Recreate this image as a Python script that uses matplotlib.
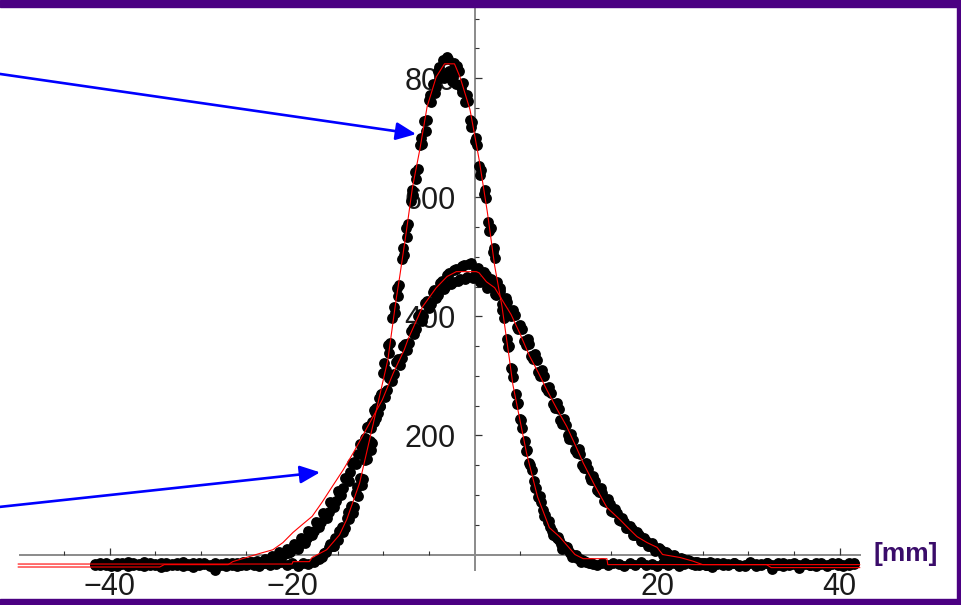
import numpy as np
import matplotlib
matplotlib.use("Agg")
import matplotlib.pyplot as plt
from matplotlib.patches import Rectangle

plt.rcParams['font.family'] = ['Liberation Sans', 'DejaVu Sans']

# ---------------- data ----------------
# narrow profile: core samples every 0.25 mm starting at -17 mm
NARROW_CORE_START, NARROW_CORE_STEP = -17.0, 0.25
NARROW_CORE_Y = [
    -8, -5, 2, 4, 12, 16, 15, 27, 24, 38, 47, 45, 62, 60, 82, 80, 104, 99, 128, 126,
    158, 160, 190, 188, 222, 230, 262, 268, 305, 310, 352, 356, 398, 405, 447, 452,
    497, 503, 548, 555, 594, 603, 642, 648, 688, 690, 728, 730, 763, 760, 790, 785,
    812, 800, 830, 806, 836, 812, 795, 826, 790, 812, 785, 792, 760, 762, 730, 726,
    695, 688, 652, 645, 606, 598, 558, 548, 508, 498, 458, 448, 410, 398, 362, 350,
    314, 298, 270, 255, 228, 212, 190, 175, 154, 142, 124, 112, 96, 88, 74, 66,
    55, 47, 40, 33, 28, 24, 18, 15, 12, 8, 3, 0, -3, -6, -8, -10, -11, -13, -14, -15, -16]
# second scan of the narrow profile, every 0.5 mm
NARROW_SCAN2_START, NARROW_SCAN2_STEP = -15.875, 0.5
NARROW_SCAN2_Y = [18, 14, 40, 38, 72, 70, 114, 116, 170, 176, 240, 250, 322, 338, 416, 434,
                  514, 534, 612, 630, 700, 712, 772, 775, 818, 800, 832, 802, 820, 776,
                  772, 718, 700, 638, 612, 544, 514, 444, 414, 348, 312, 252, 226, 174,
                  150, 112, 98, 64, 56, 32, 30, 10, 12, -4, 0, -12]
NARROW_LEFT_START, NARROW_SIDE_STEP = -41.6, 0.6
NARROW_LEFT_Y = [-16, -18, -14, -17, -19, -15, -13, -18, -16, -20, -15, -17, -14, -19,
                 -16, -18, -13, -17, -21, -15, -16, -19, -14, -17, -15, -18, -20, -16,
                 -14, -17, -19, -15, -18, -16, -13, -17, -15, -19, -14, -16, -12]
NARROW_RIGHT_START = 13.4
NARROW_RIGHT_Y = [-17, -15, -18, -14, -16, -19, -15, -17, -13, -18, -16, -20, -14, -17,
                  -15, -19, -16, -14, -18, -15, -17, -21, -16, -14, -18, -15, -17, -19,
                  -13, -16, -18, -15, -17, -14, -19, -16, -15, -18, -16, -17, -14, -16,
                  -19, -15, -17, -18, -14, -16]

# wide profile: core samples every 0.4 mm starting at -26 mm
WIDE_CORE_START, WIDE_CORE_STEP = -26.0, 0.4
WIDE_CORE_Y = [
    -15, -17, -14, -16, -13, -15, -12, -14, -10, -11, -6, -4, -2, 3, 2, 9, 12, 16, 24, 27,
    36, 40, 50, 55, 66, 72, 84, 90, 104, 112, 128, 138, 155, 168, 184, 196, 216, 222,
    246, 250, 272, 276, 300, 303, 328, 330, 354, 356, 380, 378, 404, 400, 426, 420,
    444, 436, 460, 450, 472, 458, 480, 462, 486, 466, 490, 470, 481, 460, 470, 450,
    458, 436, 442, 420, 424, 400, 402, 378, 378, 352, 354, 328, 327, 300, 300, 274,
    272, 246, 244, 220, 218, 194, 192, 170, 168, 146, 144, 125, 123, 105, 103, 88,
    85, 71, 69, 56, 55, 44, 42, 32, 32, 22, 22, 14, 14, 7, 7, 0, 1, -5, -4, -9, -8,
    -12, -11, -15, -13, -16, -14, -17, -15]
# second scan of the wide profile, every 0.4 mm
WIDE_SCAN2_START, WIDE_SCAN2_STEP = -25.8, 0.4
WIDE_SCAN2_Y = [
    -18, -13, -17, -12, -16, -11, -14, -8, -12, -3, -8, 4, -1, 10, 4, 18, 10, 28, 20, 40,
    32, 54, 46, 70, 62, 88, 80, 106, 100, 128, 124, 154, 152, 186, 184, 214, 212, 242,
    238, 270, 264, 297, 292, 324, 318, 350, 344, 376, 370, 400, 392, 422, 414, 440,
    430, 456, 446, 470, 454, 478, 460, 484, 462, 488, 464, 480, 458, 474, 448, 462,
    438, 448, 420, 430, 402, 410, 382, 386, 358, 362, 334, 336, 306, 310, 280, 282,
    252, 255, 226, 228, 200, 202, 175, 178, 151, 154, 130, 132, 108, 112, 90, 93,
    73, 76, 58, 62, 44, 48, 33, 37, 23, 28, 14, 19, 6, 11, 0, 5, -5, -1, -10, -6,
    -13, -9, -16, -12, -18, -14, -17, -13]
WIDE_LEFT_START, WIDE_SIDE_STEP = -41.6, 0.6
WIDE_LEFT_Y = [-18, -15, -17, -20, -14, -16, -19, -15, -17, -13, -18, -16, -21, -15,
               -17, -14, -19, -16, -15, -18, -14, -17, -26, -16, -19, -15]
WIDE_RIGHT_START = 26.6
WIDE_RIGHT_Y = [-15, -18, -16, -14, -19, -17, -15, -20, -16, -14, -24, -17, -15, -18,
                -16, -23, -14, -17, -19, -15, -18, -16, -14, -19, -17, -15]

# red fitted curves
NARROW_FIT_X = [-50, -20, -19.9, -18.1, -17.8, -16.2, -14.8, -14.0, -12.6, -11.5, -9.5,
                -8.6, -8.2, -7.5, -6.8, -6.0, -5.2, -4.2, -3.3, -2.2, -1.6, -0.5, 0.5,
                1.4, 2.2, 3.0, 3.8, 4.2, 5.7, 6.9, 8.2, 9.3, 11.0, 11.9, 14.5, 14.6, 42.2]
NARROW_FIT_Y = [-16, -16, -12, -12, -5, 8, 33, 59, 120, 193, 327,
                428, 467, 540, 617, 680, 752, 802, 824, 824, 802, 747, 663,
                575, 485, 417, 330, 285, 170, 97, 45, 30, 0, -7, -7, -17, -17]
WIDE_FIT_X = [-50, -34.5, -34.0, -27.0, -26.5, -25.0, -23.5, -22.1, -21.0, -19.9, -18.9,
              -17.8, -16.7, -15.6, -14.4, -13.2, -11.6, -10.1, -8.9, -7.7, -7.3, -5.7,
              -4.2, -3.0, -2.0, 0.2, 0.5, 1.3, 2.2, 3.0, 4.0, 5.0, 6.0, 7.0, 7.9, 9.0,
              10.1, 11.0, 11.9, 13.2, 14.5, 15.9, 16.8, 17.8, 18.9, 20.0, 20.6, 22.5,
              23.9, 25.0, 32.0, 32.5, 42.2]
WIDE_FIT_Y = [-21, -21, -17, -17, -12, -5, 2, 8, 20, 37, 50,
              64, 88, 114, 142, 173, 218, 260, 305, 344, 361, 416,
              448, 467, 475, 475, 473, 458, 448, 428, 403, 370, 334, 305, 277, 245,
              215, 185, 154, 115, 79, 59, 45, 30, 20, 12, 0, -5,
              -11, -17, -17, -22, -22]

X_MAJOR = [-40, -20, 20, 40]
X_MINOR = [-45, -35, -30, -25, -15, -10, -5, 5, 10, 15, 25, 30, 35]
Y_MAJOR = [200, 400, 600, 800]
Y_MINOR = [50, 100, 150, 250, 300, 350, 450, 500, 550, 650, 700, 750, 850, 900]
UNIT_LABEL = "[mm]"

# annotation arrows (tail -> tip, data coords)
ARROW1 = ((-52.0, 807), (-6.41, 706))
ARROW2 = ((-52.0, 80), (-16.93, 138))


def sampled(start, step, ys):
    xs = start + step * np.arange(len(ys))
    return xs, np.asarray(ys, dtype=float)


# ---------------- figure ----------------
W, H = 961, 605
fig = plt.figure(figsize=(W / 100, H / 100), dpi=100)
fig.patch.set_facecolor('white')
ax = fig.add_axes([0, 0, 1, 1])
ax.set_xlim(-52.0, 53.3)
ax.set_ylim(-84.8, 931.2)

for sp in ('top', 'right'):
    ax.spines[sp].set_visible(False)
ax.spines['left'].set_position(('data', 0))
ax.spines['bottom'].set_position(('data', 0))
ax.spines['bottom'].set_bounds(-49.8, 42.25)
ax.spines['left'].set_bounds(-26, 931)
for sp in ('left', 'bottom'):
    ax.spines[sp].set_color('#8a8a8a')
    ax.spines[sp].set_linewidth(1.4)
    ax.spines[sp].set_zorder(1.2)

ax.set_xticks(X_MAJOR)
ax.set_xticklabels(['\u221240', '\u221220', '20', '40'])
ax.set_xticks(X_MINOR, minor=True)
ax.set_yticks(Y_MAJOR)
ax.set_yticks(Y_MINOR, minor=True)
ax.tick_params(axis='x', which='major', direction='in', length=5, width=0.9,
               color='#333333', labelsize=22, labelcolor='#1a1a1a', pad=12.5)
ax.tick_params(axis='x', which='minor', direction='in', length=2.6, width=0.8,
               color='#333333')
ax.tick_params(axis='y', which='major', direction='in', length=5, width=0.9,
               color='#333333', labelsize=22, labelcolor='#1a1a1a', pad=13.5)
ax.tick_params(axis='y', which='minor', direction='in', length=3, width=0.8,
               color='#333333')

# scatter data
for start, step, ys in [(NARROW_LEFT_START, NARROW_SIDE_STEP, NARROW_LEFT_Y),
                        (NARROW_CORE_START, NARROW_CORE_STEP, NARROW_CORE_Y),
                        (NARROW_SCAN2_START, NARROW_SCAN2_STEP, NARROW_SCAN2_Y),
                        (NARROW_RIGHT_START, NARROW_SIDE_STEP, NARROW_RIGHT_Y),
                        (WIDE_LEFT_START, WIDE_SIDE_STEP, WIDE_LEFT_Y),
                        (WIDE_CORE_START, WIDE_CORE_STEP, WIDE_CORE_Y),
                        (WIDE_SCAN2_START, WIDE_SCAN2_STEP, WIDE_SCAN2_Y),
                        (WIDE_RIGHT_START, WIDE_SIDE_STEP, WIDE_RIGHT_Y)]:
    xs, yv = sampled(start, step, ys)
    ax.plot(xs, yv, 'o', color='black', ms=7.8, mew=0, zorder=2, clip_on=False)

# fits
ax.plot(NARROW_FIT_X, NARROW_FIT_Y, color='#ff0000', lw=0.8, zorder=3, clip_on=False)
ax.plot(WIDE_FIT_X, WIDE_FIT_Y, color='#ff0000', lw=0.8, zorder=3, clip_on=False)

# arrows
for tail, tip in (ARROW1, ARROW2):
    ax.annotate('', xy=tip, xytext=tail, xycoords='data', textcoords='data',
                annotation_clip=False,
                arrowprops=dict(arrowstyle='-|>,head_length=0.45,head_width=0.2',
                                color='#0000ff', lw=1.9, mutation_scale=27,
                                shrinkA=0, shrinkB=0), zorder=4)

# unit label
fig.text(906 / W, 1 - 554 / H, UNIT_LABEL, ha='center', va='center',
         fontsize=19, fontweight='bold', color='#3a0c6a')

# purple frame
frame = '#4b0082'
fig.patches.extend([
    Rectangle((0, 1 - 7 / H), 1, 7 / H, transform=fig.transFigure, color=frame, zorder=10),
    Rectangle((0, 0), 1, 6 / H, transform=fig.transFigure, color=frame, zorder=10),
    Rectangle((1 - 4 / W, 0), 4 / W, 1, transform=fig.transFigure, color=frame, zorder=10),
])

fig.savefig('out.png', dpi=100)
